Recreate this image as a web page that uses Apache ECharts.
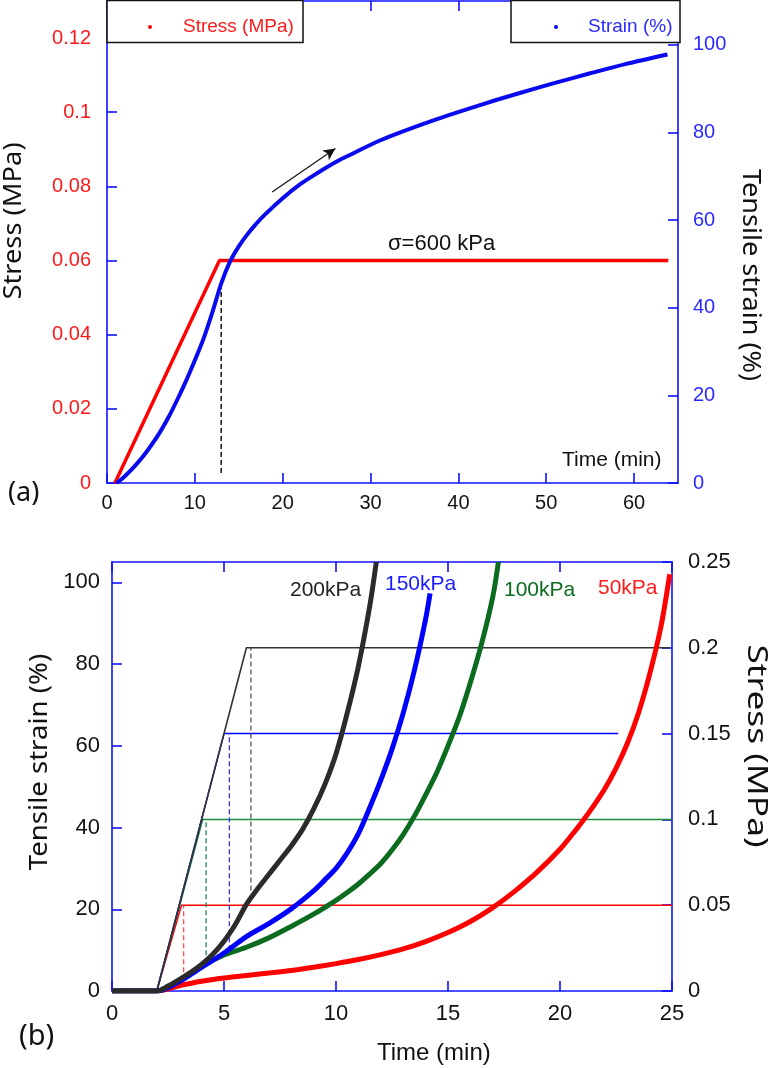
<!DOCTYPE html>
<html>
<head>
<meta charset="utf-8">
<title>Creep test</title>
<script src="https://cdn.jsdelivr.net/npm/echarts@6/dist/echarts.min.js"></script>
<style>
    html, body { margin: 0; padding: 0; background: #fff; }
    #chart { width: 771px; height: 1068px; }
</style>
</head>
<body>
<div id="chart"></div>
<script>
// (a) ramp to 600 kPa then hold
var stressTimeA = [0.9, 12.8, 63.9];
var stressValA = [0, 0.06, 0.06];
var strainTimeA = [1.1, 2, 3, 4, 5, 6, 7, 8, 9, 10, 11, 12, 13, 14, 15, 16, 17, 18, 20, 22, 24, 26, 28, 31, 35, 39, 43, 47, 51, 55, 59, 63.8];
var strainValA = [0, 1.5, 3.5, 5.8, 8.5, 11.5, 15, 19, 23.3, 28, 33, 39, 45.5, 50.5, 54, 56.8, 59.2, 61.3, 65, 68.2, 70.8, 73.2, 75.2, 78.1, 81.2, 84.0, 86.6, 89.0, 91.3, 93.5, 95.6, 97.8];
var dashTimeA = [13, 13];
var dashStrainA = [2.3, 46];
var arrowTimeA = [18.8, 26];
var arrowStressA = [0.0785, 0.0902];

// (b) four stress levels
var t50 = [0, 2, 3, 4, 5, 6, 7, 8, 9, 10, 11, 12, 13, 14, 15, 16, 17, 18, 19, 20, 20.5, 21, 21.5, 22, 22.5, 23, 23.5, 24, 24.5, 24.9];
var s50 = [0, 0, 1.3, 2.4, 3.2, 3.8, 4.4, 5.0, 5.8, 6.7, 7.7, 8.9, 10.3, 12.1, 14.3, 17.0, 20.4, 24.5, 29.2, 34.7, 38.0, 41.5, 45.3, 49.5, 54.5, 60.5, 68, 77.5, 89, 102];
var t100 = [0, 2, 3, 4, 5, 6, 7, 8, 9, 10, 10.5, 11, 11.5, 12, 12.5, 13, 13.5, 14, 14.5, 15, 15.5, 16, 16.5, 17, 17.25];
var s100 = [0, 0, 2.4, 6.0, 8.8, 10.7, 13, 15.8, 18.8, 22.2, 24.1, 26.2, 28.6, 31.2, 34.5, 38.3, 42.8, 48, 53.5, 60, 67, 75.5, 85, 96.5, 105];
var t150 = [0, 2, 3, 4, 5, 6, 7, 8, 9, 9.5, 10, 10.5, 11, 11.5, 12, 12.5, 13, 13.5, 14, 14.2];
var s150 = [0, 0, 2.3, 5.8, 9.3, 13.3, 16.5, 20.1, 24.5, 27.2, 30, 33.8, 38.5, 44.8, 51.6, 59.2, 68, 78.5, 91, 97.3];
var t200 = [0, 2, 2.5, 3, 3.5, 4, 4.5, 5, 5.5, 6, 6.5, 7, 7.5, 8, 8.5, 9, 9.5, 10, 10.5, 11, 11.5, 11.8];
var s200 = [0, 0, 1.2, 2.8, 4.5, 6.5, 9.0, 12.2, 16.2, 21.2, 25.0, 28.5, 32.0, 35.5, 39.5, 44.5, 50.5, 58, 68, 79.5, 94, 105];

var rampT50 = [2, 3.1, 25], rampS50 = [0, 0.05, 0.05];
var rampT100 = [2, 4.05, 25], rampS100 = [0, 0.1, 0.1];
var rampT150 = [2, 5.0, 22.6], rampS150 = [0, 0.15, 0.15];
var rampT200 = [2, 6.0, 24.9], rampS200 = [0, 0.2, 0.2];

var dashT50 = [3.2, 3.2], dashS50 = [4.6, 21];
var dashT100 = [4.2, 4.2], dashS100 = [6.8, 42];
var dashT150 = [5.24, 5.24], dashS150 = [10, 63];
var dashT200 = [6.2, 6.2], dashS200 = [24.6, 84];

var levelLabels = ['200kPa', '150kPa', '100kPa', '50kPa'];

var numFont = 'Liberation Sans, Arial, sans-serif';
var titleFont = 'Noto Sans, sans-serif';
var axisBlue = '#1010ff';

function pairs(xs, ys) {
    var out = [];
    for (var i = 0; i < xs.length; i++) {
        out.push([xs[i], ys[i]]);
    }
    return out;
}

function valueAxis(grid, pos, min, max, interval, labelColor, fontSize, margin, showLabel, showMax) {
    return {
        type: 'value', gridIndex: grid, position: pos,
        min: min, max: max, interval: interval,
        axisLine: {show: true, onZero: false, lineStyle: {color: axisBlue, width: 1.6}},
        axisTick: {show: true, inside: true, length: 10, lineStyle: {color: axisBlue, width: 1.6}},
        axisLabel: {show: showLabel, color: labelColor, fontSize: fontSize, fontFamily: numFont, margin: margin, showMaxLabel: showMax},
        splitLine: {show: false}
    };
}

function thinLine(name, data, xi, yi, color, width, dashed, z) {
    return {
        name: name, type: 'line', xAxisIndex: xi, yAxisIndex: yi, data: data,
        symbol: 'none', silent: true, z: z,
        lineStyle: {color: color, width: width, type: dashed ? [5, 3] : 'solid'},
        itemStyle: {color: color}
    };
}

function thickLine(name, data, xi, yi, color, width, z) {
    return {
        name: name, type: 'line', xAxisIndex: xi, yAxisIndex: yi, data: data,
        symbol: 'none', smooth: 0.3, silent: true, z: z,
        lineStyle: {color: color, width: width},
        itemStyle: {color: color}
    };
}

function sideTitle(text, x, y, size, rot, stretch) {
    return {
        type: 'text', x: x, y: y, rotation: rot, scaleX: stretch, z: 20,
        style: {text: text, fill: '#111', font: size + 'px ' + titleFont, align: 'center', verticalAlign: 'middle'}
    };
}

function plainText(text, x, y, size, color, family) {
    return {
        type: 'text', x: x, y: y, z: 20,
        style: {text: text, fill: color, font: size + 'px ' + (family || numFont), align: 'left', verticalAlign: 'middle'}
    };
}

var myChart = echarts.init(document.getElementById('chart'), null, {renderer: 'canvas'});

var stressA = thinLine('Stress (MPa)', pairs(stressTimeA, stressValA), 0, 0, '#ff0000', 3.5, false, 3);
stressA.markLine = {
    silent: true, symbol: ['none', 'arrow'], symbolSize: [9, 12],
    label: {show: false},
    lineStyle: {color: '#111', width: 1.2, type: 'solid'},
    data: [[{coord: [arrowTimeA[0], arrowStressA[0]]}, {coord: [arrowTimeA[1], arrowStressA[1]]}]]
};

var option = {
    animation: false,
    backgroundColor: '#ffffff',
    grid: [
        {left: 107, right: 93, top: 1, height: 482, outerBoundsMode: 'none'},
        {left: 112, right: 99, top: 562, height: 429, outerBoundsMode: 'none'}
    ],
    legend: [
        {
            data: ['Stress (MPa)'], left: 143, top: 11, z: 30, selectedMode: false,
            icon: 'circle', itemWidth: 4, itemHeight: 4,
            textStyle: {color: '#ff1a1a', fontSize: 19, fontFamily: numFont, lineHeight: 22, padding: [0, 0, 0, 26]}
        },
        {
            data: ['Strain (%)'], left: 549, top: 11, z: 30, selectedMode: false,
            icon: 'circle', itemWidth: 4, itemHeight: 4,
            textStyle: {color: '#2a2aff', fontSize: 19, fontFamily: numFont, lineHeight: 22, padding: [0, 0, 0, 25]}
        }
    ],
    xAxis: [
        valueAxis(0, 'bottom', 0, 65, 10, '#111', 20, 10, true, false),
        valueAxis(0, 'top', 0, 65, 10, '#111', 20, 10, false, false),
        valueAxis(1, 'bottom', 0, 25, 5, '#111', 22, 12, true, true),
        valueAxis(1, 'top', 0, 25, 5, '#111', 22, 12, false, false)
    ],
    yAxis: [
        valueAxis(0, 'left', 0, 0.13, 0.02, '#ff1a1a', 20, 16, true, false),
        valueAxis(0, 'right', 0, 110, 20, '#2a2aff', 20, 15, true, false),
        valueAxis(1, 'left', 0, 105, 20, '#111', 22, 12, true, false),
        valueAxis(1, 'right', 0, 0.25, 0.05, '#111', 22, 16, true, true)
    ],
    series: [
        stressA,
        thickLine('Strain (%)', pairs(strainTimeA, strainValA), 0, 1, '#0a0aee', 4, 4),
        thinLine('dashA', pairs(dashTimeA, dashStrainA), 0, 1, '#111', 1.5, true, 2),

        thinLine('ramp50', pairs(rampT50, rampS50), 2, 3, '#ff0000', 1.5, false, 2),
        thinLine('ramp100', pairs(rampT100, rampS100), 2, 3, '#1f8a3a', 1.5, false, 2),
        thinLine('ramp150', pairs(rampT150, rampS150), 2, 3, '#0000ff', 1.5, false, 2),
        thinLine('ramp200', pairs(rampT200, rampS200), 2, 3, '#333333', 1.6, false, 3),
        thinLine('dash50', pairs(dashT50, dashS50), 2, 2, '#ff5050', 1.3, true, 2),
        thinLine('dash100', pairs(dashT100, dashS100), 2, 2, '#1f8a5a', 1.3, true, 2),
        thinLine('dash150', pairs(dashT150, dashS150), 2, 2, '#3333ff', 1.3, true, 2),
        thinLine('dash200', pairs(dashT200, dashS200), 2, 2, '#555555', 1.3, true, 2),

        thickLine('50kPa', pairs(t50, s50), 2, 2, '#ff0000', 5, 5),
        thickLine('100kPa', pairs(t100, s100), 2, 2, '#0b6b1e', 5, 5),
        thickLine('150kPa', pairs(t150, s150), 2, 2, '#0000ff', 5, 5),
        thickLine('200kPa', pairs(t200, s200), 2, 2, '#2b2b2b', 5, 6)
    ],
    graphic: [
        // legend frames over the top border
        {type: 'rect', z: 10, shape: {x: 107, y: 0.5, width: 196, height: 42}, style: {fill: '#fff', stroke: '#111', lineWidth: 1.5}},
        {type: 'rect', z: 10, shape: {x: 511, y: 0.5, width: 169, height: 42}, style: {fill: '#fff', stroke: '#111', lineWidth: 1.5}},

        sideTitle('Stress (MPa)', 14, 221, 26, Math.PI / 2, 1.05),
        sideTitle('Tensile strain (%)', 750, 275, 26, -Math.PI / 2, 1.04),
        sideTitle('Tensile strain (%)', 40, 762, 26, Math.PI / 2, 1.06),
        sideTitle('Stress (MPa)', 756, 746, 28, -Math.PI / 2, 1.26),

        plainText('(a)', 8, 493, 27, '#111', titleFont),
        plainText('(b)', 19, 1037, 29, '#111', titleFont),
        plainText('Time (min)', 562, 460, 21, '#111'),
        plainText('\u03c3=600 kPa', 388, 244, 22, '#111'),
        plainText('Time (min)', 377, 1053, 24, '#111'),

        plainText(levelLabels[0], 290, 590, 21, '#222'),
        plainText(levelLabels[1], 385, 584, 21, '#1a1aff'),
        plainText(levelLabels[2], 504, 590, 21, '#0b6b1e'),
        plainText(levelLabels[3], 598, 588, 21, '#ff1a1a')
    ]
};

myChart.setOption(option);
</script>
</body>
</html>
